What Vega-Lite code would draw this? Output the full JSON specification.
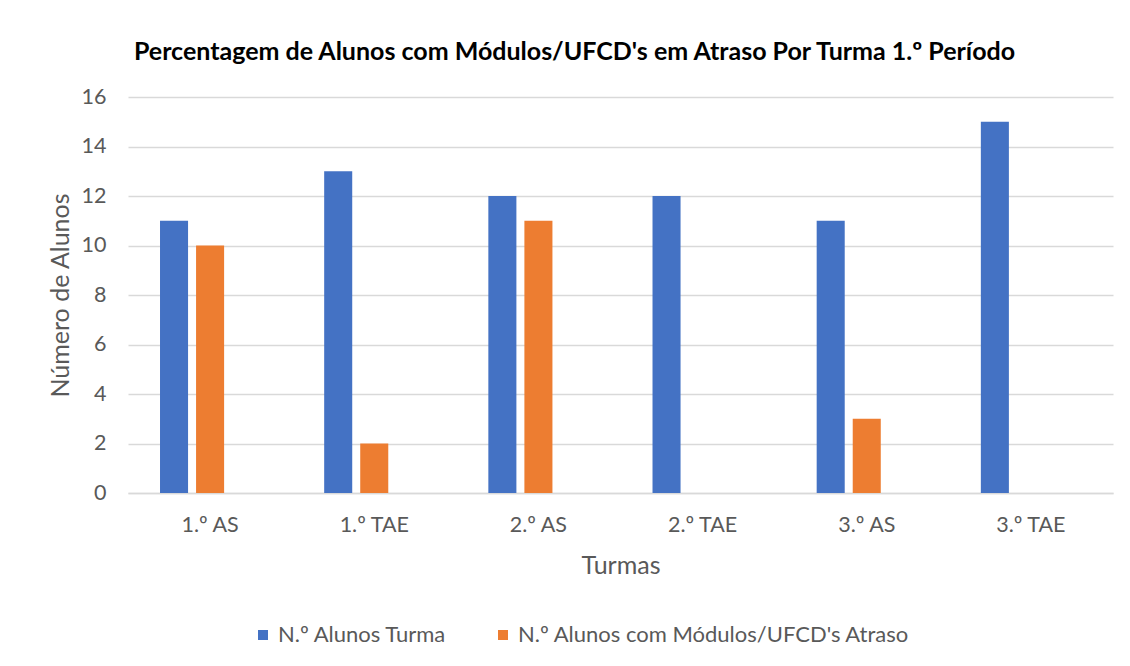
{
  "$schema": "https://vega.github.io/schema/vega-lite/v6.json",
  "width": 985,
  "height": 396,
  "autosize": {"type": "none"},
  "padding": {"left": 128, "top": 97, "right": 17, "bottom": 173},
  "background": "white",
  "title": {
    "text": "Percentagem de Alunos com Módulos/UFCD's em Atraso Por Turma 1.º Período",
    "font": "Lato",
    "fontSize": 25,
    "fontWeight": "bold",
    "color": "#000000",
    "anchor": "middle",
    "dx": -46,
    "offset": 21
  },
  "data": {
    "values": [
      {"turma": "1.º AS", "serie": "N.º Alunos Turma", "valor": 11},
      {"turma": "1.º AS", "serie": "N.º Alunos com Módulos/UFCD's Atraso", "valor": 10},
      {"turma": "1.º TAE", "serie": "N.º Alunos Turma", "valor": 13},
      {"turma": "1.º TAE", "serie": "N.º Alunos com Módulos/UFCD's Atraso", "valor": 2},
      {"turma": "2.º AS", "serie": "N.º Alunos Turma", "valor": 12},
      {"turma": "2.º AS", "serie": "N.º Alunos com Módulos/UFCD's Atraso", "valor": 11},
      {"turma": "2.º TAE", "serie": "N.º Alunos Turma", "valor": 12},
      {"turma": "2.º TAE", "serie": "N.º Alunos com Módulos/UFCD's Atraso", "valor": 0},
      {"turma": "3.º AS", "serie": "N.º Alunos Turma", "valor": 11},
      {"turma": "3.º AS", "serie": "N.º Alunos com Módulos/UFCD's Atraso", "valor": 3},
      {"turma": "3.º TAE", "serie": "N.º Alunos Turma", "valor": 15},
      {"turma": "3.º TAE", "serie": "N.º Alunos com Módulos/UFCD's Atraso", "valor": 0}
    ]
  },
  "mark": {"type": "bar"},
  "encoding": {
    "x": {
      "field": "turma",
      "type": "nominal",
      "sort": null,
      "scale": {"paddingInner": 0.39, "paddingOuter": 0.195},
      "axis": {
        "title": "Turmas",
        "labelAngle": 0,
        "ticks": false,
        "labelPadding": 21,
        "titlePadding": 18,
        "labelFontSize": 21.5,
        "domainColor": "#d9d9d9",
        "domainWidth": 1.5
      }
    },
    "xOffset": {
      "field": "serie",
      "type": "nominal",
      "scale": {
        "domain": ["N.º Alunos Turma", "N.º Alunos com Módulos/UFCD's Atraso", "-"],
        "paddingInner": 0.222,
        "paddingOuter": 0
      }
    },
    "y": {
      "field": "valor",
      "type": "quantitative",
      "scale": {"domain": [0, 16]},
      "axis": {
        "title": "Número de Alunos",
        "values": [0, 2, 4, 6, 8, 10, 12, 14, 16],
        "labelOverlap": false,
        "ticks": false,
        "domain": false,
        "labelPadding": 22,
        "labelFontSize": 21.5,
        "titlePadding": 8,
        "gridColor": "#d9d9d9",
        "gridWidth": 1.5
      }
    },
    "color": {
      "field": "serie",
      "type": "nominal",
      "scale": {
        "domain": ["N.º Alunos Turma", "N.º Alunos com Módulos/UFCD's Atraso"],
        "range": ["#4472C4", "#ED7D31"]
      },
      "legend": {
        "title": null,
        "orient": "none",
        "legendX": 124,
        "legendY": 527,
        "direction": "horizontal",
        "symbolType": "square",
        "symbolSize": 100,
        "symbolStrokeWidth": 0,
        "labelFontSize": 22,
        "labelColor": "#595959",
        "labelFont": "Lato",
        "labelLimit": 0,
        "labelOffset": 4,
        "columnPadding": 45
      }
    }
  },
  "config": {
    "view": {"stroke": null},
    "axis": {
      "labelFont": "Lato",
      "labelColor": "#595959",
      "titleFont": "Lato",
      "titleFontSize": 25,
      "titleFontWeight": "normal",
      "titleColor": "#595959"
    }
  }
}
